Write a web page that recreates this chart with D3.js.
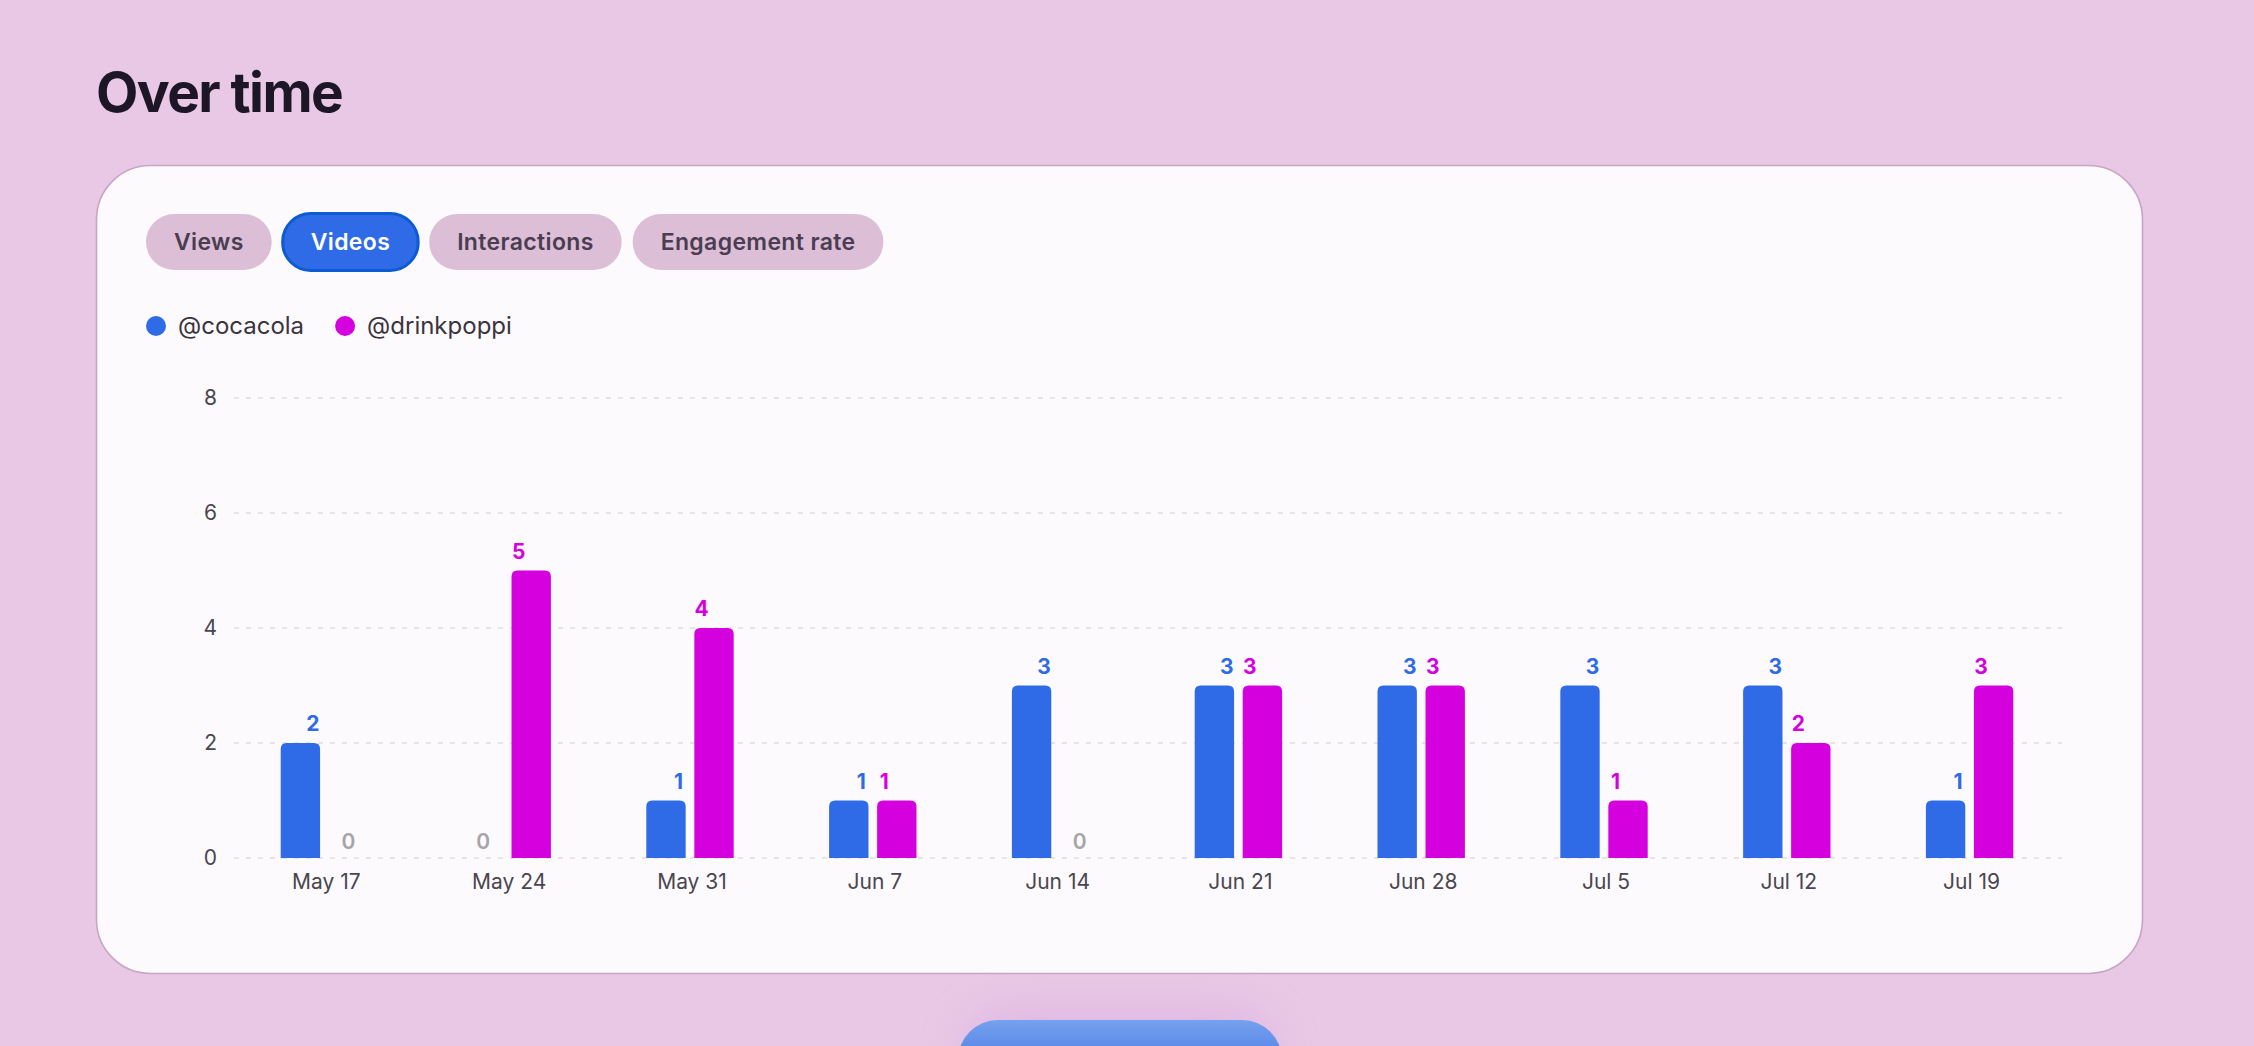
<!DOCTYPE html>
<html>
<head>
<meta charset="UTF-8">
<title>Over time</title>
<script src="https://cdn.jsdelivr.net/npm/d3@7"></script>
<style>
  body { margin: 0; background: #e8c8e4; overflow: hidden; }
  svg { display: block; font-family: Inter, "Noto Sans", sans-serif; }
</style>
</head>
<body>
<svg id="chart"></svg>
<script>
// chart values
const categories = ["May 17", "May 24", "May 31", "Jun 7", "Jun 14", "Jun 21", "Jun 28", "Jul 5", "Jul 12", "Jul 19"];
const cocacola   = [2, 0, 1, 1, 3, 3, 3, 3, 3, 1];
const drinkpoppi = [0, 5, 4, 1, 0, 3, 3, 1, 2, 3];
const seriesNames = ["@cocacola", "@drinkpoppi"];
const yTicks = [0, 2, 4, 6, 8];
const tabs = ["Views", "Videos", "Interactions", "Engagement rate"];
const activeTab = "Videos";

// page setup
const W = 2254, H = 1046;
const colors = { "@cocacola": "#2f6be6", "@drinkpoppi": "#d500de" };

const svg = d3.select("#chart").attr("width", W).attr("height", H);
const defs = svg.append("defs");

// title
svg.append("text")
  .attr("x", 96).attr("y", 112)
  .attr("font-size", 55).attr("font-weight", 700)
  .attr("letter-spacing", -1.6)
  .attr("fill", "#1d1626")
  .text("Over time");

// card
svg.append("rect")
  .attr("x", 96.5).attr("y", 165.5)
  .attr("width", 2046).attr("height", 808)
  .attr("rx", 54)
  .attr("fill", "#fdfafd")
  .attr("stroke", "#c9a5c5").attr("stroke-width", 1.6);

// tabs
const tabG = svg.append("g");
let tx = 146;
tabs.forEach(function(t) {
  const active = t === activeTab;
  const g = tabG.append("g");
  const label = g.append("text")
    .attr("y", 250)
    .attr("font-size", 23).attr("font-weight", 600)
    .attr("letter-spacing", 0.35)
    .attr("fill", active ? "#ffffff" : "#4a3d52")
    .attr("text-anchor", "middle")
    .text(t);
  const tw = label.node().getComputedTextLength();
  const w = tw + 56;
  g.insert("rect", "text")
    .attr("x", tx).attr("y", active ? 213.5 : 214)
    .attr("width", w).attr("height", active ? 57 : 56)
    .attr("rx", 28)
    .attr("fill", active ? "#2f6be6" : "#dcbed6")
    .attr("stroke", active ? "#0c5bd2" : "none")
    .attr("stroke-width", active ? 3 : 0);
  label.attr("x", tx + w / 2);
  tx += w + 11;
});

// legend
const legend = svg.append("g");
let lx = 156;
seriesNames.forEach(function(s) {
  legend.append("circle").attr("cx", lx).attr("cy", 326).attr("r", 10).attr("fill", colors[s]);
  const t = legend.append("text")
    .attr("x", lx + 22).attr("y", 334)
    .attr("font-size", 24).attr("fill", "#3b3440")
    .text(s);
  lx += 22 + t.node().getComputedTextLength() + 41;
});

// scales
const x0 = d3.scaleBand().domain(categories).range([233, 2061]);
const x1 = d3.scaleBand().domain(seriesNames).range([-43.7, 43.7]).paddingInner(0.18);
const y = d3.scaleLinear().domain([0, 8]).range([858, 398]);

// gridlines + y labels
const grid = svg.append("g");
grid.selectAll("line").data(yTicks).enter().append("line")
  .attr("x1", 234).attr("x2", 2062)
  .attr("y1", d => y(d)).attr("y2", d => y(d))
  .attr("stroke", "#e0dbe0").attr("stroke-width", 1.5)
  .attr("stroke-dasharray", "5 7");

const yAxis = d3.axisLeft(y).tickValues(yTicks).tickSize(0).tickPadding(0);
svg.append("g")
  .attr("transform", "translate(217,0)")
  .call(yAxis)
  .call(g => g.select(".domain").remove())
  .call(g => g.selectAll("text")
    .attr("font-size", 21).attr("fill", "#4a4650")
    .attr("font-family", "Inter, sans-serif"));

// x labels
const xAxis = d3.axisBottom(x0).tickSize(0).tickPadding(0);
svg.append("g")
  .attr("transform", "translate(2,873)")
  .call(xAxis)
  .call(g => g.select(".domain").remove())
  .call(g => g.selectAll("text")
    .attr("dy", "0.75em")
    .attr("font-size", 21).attr("fill", "#4a4650")
    .attr("font-family", "Inter, sans-serif"));

// rows built from arrays
const rows = categories.map((c, i) => ({
  cat: c,
  vals: [
    { s: "@cocacola", v: cocacola[i] },
    { s: "@drinkpoppi", v: drinkpoppi[i] }
  ]
}));

function topRounded(x, yTop, w, h, r) {
  r = Math.min(r, h, w / 2);
  return "M" + x + "," + (yTop + h) +
    "V" + (yTop + r) +
    "Q" + x + "," + yTop + " " + (x + r) + "," + yTop +
    "H" + (x + w - r) +
    "Q" + (x + w) + "," + yTop + " " + (x + w) + "," + (yTop + r) +
    "V" + (yTop + h) + "Z";
}

const groups = svg.append("g").selectAll("g.grp")
  .data(rows).enter().append("g")
  .attr("class", "grp")
  .attr("transform", d => "translate(" + (x0(d.cat) + x0.bandwidth() / 2) + ",0)");

groups.selectAll("path")
  .data(d => d.vals.filter(e => e.v > 0)).enter().append("path")
  .attr("d", e => topRounded(x1(e.s), y(e.v), x1.bandwidth(), y(0) - y(e.v), 6))
  .attr("fill", e => colors[e.s]);

// value labels: non-zero ones lean toward group centre, zeros sit centred
groups.selectAll("text.val")
  .data(d => d.vals).enter().append("text")
  .attr("class", "val")
  .attr("text-anchor", "middle")
  .attr("x", e => {
    const c = x1(e.s) + x1.bandwidth() / 2;
    if (e.v === 0) return c;
    return e.s === "@cocacola" ? c + 12.5 : c - 12.5;
  })
  .attr("y", e => e.v === 0 ? y(0) - 9 : y(e.v) - 12)
  .attr("font-size", 21)
  .attr("font-weight", e => e.v === 0 ? 600 : 700)
  .attr("fill", e => e.v === 0 ? "#a7a4a8" : colors[e.s])
  .text(e => e.v);

// button peeking at the bottom
const grad = defs.append("linearGradient").attr("id", "btn").attr("x1", 0).attr("x2", 0).attr("y1", 0).attr("y2", 1);
grad.append("stop").attr("offset", "0%").attr("stop-color", "#76a1ef");
grad.append("stop").attr("offset", "100%").attr("stop-color", "#2f62dc");
const blur = defs.append("filter").attr("id", "glow").attr("x", "-50%").attr("y", "-100%").attr("width", "200%").attr("height", "300%");
blur.append("feGaussianBlur").attr("stdDeviation", 22);

svg.append("rect")
  .attr("x", 965).attr("y", 1010).attr("width", 310).attr("height", 90).attr("rx", 45)
  .attr("fill", "#d9a8e6").attr("opacity", 0.55)
  .attr("filter", "url(#glow)");
svg.append("rect")
  .attr("x", 958).attr("y", 1020).attr("width", 324).attr("height", 80).attr("rx", 40)
  .attr("fill", "url(#btn)");
</script>
</body>
</html>
